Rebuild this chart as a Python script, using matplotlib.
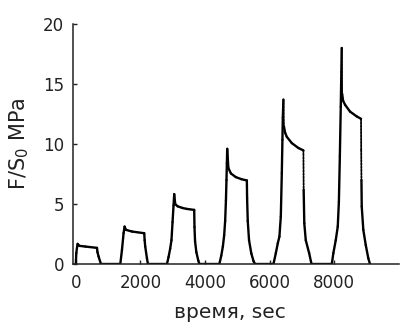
import matplotlib
matplotlib.use('Agg')
import matplotlib.pyplot as plt
from matplotlib.collections import LineCollection
import numpy as np

plt.rcParams['font.family'] = ['DejaVu Sans']

# six load/hold/unload cycles (time in sec, stress in MPa)
t1 = [0, 15, 40, 56, 108, 294, 655, 670, 705, 779]
v1 = [0, 0.92, 1.45, 1.69, 1.53, 1.47, 1.36, 1.0, 0.64, 0]
t2 = [1376, 1428, 1478, 1509, 1552, 1737, 2117, 2130, 2148, 2201, 2232]
v2 = [0, 1.19, 2.58, 3.13, 2.86, 2.72, 2.58, 2.0, 1.47, 0.5, 0]
t3 = [2819, 2870, 2920, 2960, 2993, 3024, 3045, 3076, 3150, 3300, 3437, 3663, 3672, 3690, 3730, 3790, 3827]
v3 = [0, 0.6, 1.3, 2.0, 3.5, 4.9, 5.83, 5.0, 4.82, 4.68, 4.6, 4.52, 3.1, 1.9, 1.0, 0.3, 0]
t4 = [4440, 4500, 4550, 4590, 4621, 4645, 4662, 4674, 4685, 4720, 4800, 4950, 5120, 5292, 5300, 5320, 5360, 5430, 5500, 5549]
v4 = [0, 0.7, 1.47, 2.4, 3.6, 5.3, 7.0, 8.4, 9.6, 8.0, 7.55, 7.25, 7.08, 6.97, 5.5, 3.6, 2.0, 0.9, 0.25, 0]
t5 = [6114, 6189, 6250, 6300, 6343, 6374, 6393, 6405, 6424, 6440, 6475, 6529, 6683, 6887, 7042, 7050, 7070, 7115, 7220, 7294]
v5 = [0, 0.92, 1.75, 2.3, 3.97, 7.58, 10.36, 12.2, 13.7, 11.47, 10.95, 10.6, 10.08, 9.67, 9.47, 6.2, 3.4, 2.0, 0.92, 0]
t6 = [7920, 7969, 8043, 8105, 8140, 8170, 8198, 8216, 8228, 8240, 8270, 8331, 8485, 8692, 8825, 8830, 8838, 8847, 8896, 8971, 9050, 9104]
v6 = [0, 0.92, 2.0, 3.13, 5.2, 9.0, 13.1, 16.0, 18.0, 14.2, 13.6, 13.27, 12.7, 12.3, 12.1, 9.5, 7.0, 4.8, 2.86, 1.6, 0.5, 0]

time = t1 + t2 + t3 + t4 + t5 + t6
stress = v1 + v2 + v3 + v4 + v5 + v6

fig = plt.figure(figsize=(4.01, 3.27), dpi=100)
ax = fig.add_axes([0.181, 0.192, 0.814, 0.735])

# the fast unloading of the last two holds shows up dotted (sparse samples)
pts = np.column_stack([time, stress])
segs = np.stack([pts[:-1], pts[1:]], axis=1)
dy = np.diff(stress)
dx = np.diff(time)
fast = (-dy / np.maximum(dx, 1) > 0.12) & (np.minimum(pts[:-1, 1], pts[1:, 1]) > 5.8)
styles = [(0, (1, 0.8)) if f else 'solid' for f in fast]
widths = [1.3 if f else 1.7 for f in fast]
lc = LineCollection(segs, colors='black', linestyles=styles, linewidths=widths,
                    capstyle='round', joinstyle='round')
ax.add_collection(lc)

ax.set_xlim(-100, 10000)
ax.set_ylim(0, 20)
ax.set_xticks([0, 2000, 4000, 6000, 8000])
ax.set_yticks([0, 5, 10, 15, 20])
ax.spines['top'].set_visible(False)
ax.spines['right'].set_visible(False)
for s in ['left', 'bottom']:
    ax.spines[s].set_linewidth(1.1)
    ax.spines[s].set_color('#222222')
ax.tick_params(direction='in', length=3, width=1, labelsize=12, colors='#222222')
ax.tick_params(axis='x', pad=7)
ax.tick_params(axis='y', pad=6)
ax.set_xlabel('время, sec', fontsize=14.5, color='#222222')
ax.xaxis.set_label_coords(0.482, -0.16)
ax.set_ylabel('F/S$_0$ MPa', fontsize=15, color='#222222', labelpad=9)

fig.savefig('out.png', dpi=100)
